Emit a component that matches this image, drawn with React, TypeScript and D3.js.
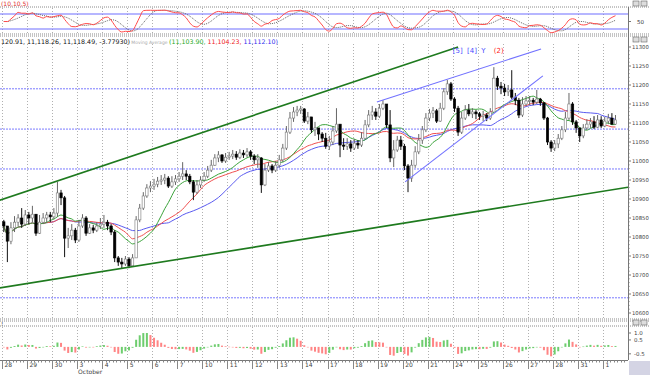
import React, { useEffect, useRef } from 'react';
import * as d3 from 'd3';

// hourly bars, 7 per trading day
const dayLabels = ["28", "29", "30", "3", "4", "5", "6", "7", "10", "11", "12", "13", "14", "17", "18", "19", "20", "21", "24", "25", "26", "27", "28", "31", "1"];

const closes = [
  10829, 10789, 10824, 10839, 10850, 10834, 10858, 10850, 10860, 10810, 10839, 10850, 10858, 10853, 10863, 10916, 10903, 10797, 10803, 10818,
  10792, 10829, 10850, 10810, 10824, 10818, 10829, 10834, 10839, 10829, 10813, 10745, 10734, 10729, 10742, 10724, 10745, 10845, 10876, 10908,
  10929, 10934, 10939, 10947, 10950, 10955, 10934, 10945, 10953, 10960, 10966, 10960, 10945, 10918, 10937, 10950, 10960, 10976, 10989, 11008,
  11016, 11000, 11010, 11013, 11018, 11010, 11021, 11016, 11024, 11013, 11003, 11008, 10937, 10976, 10987, 10976, 10989, 11003, 11034, 11076,
  11113, 11129, 11134, 11137, 11105, 11116, 11082, 11087, 11071, 11060, 11039, 11050, 11079, 11097, 11042, 11039, 11045, 11034, 11047, 11042,
  11060, 11095, 11121, 11129, 11118, 11139, 11150, 11095, 11008, 11029, 11055, 11039, 10987, 10955, 10989, 11024, 11055, 11082, 11113, 11126,
  11132, 11105, 11139, 11182, 11203, 11163, 11139, 11076, 11113, 11134, 11124, 11129, 11124, 11118, 11121, 11113, 11129, 11218, 11197, 11192,
  11182, 11187, 11168, 11160, 11121, 11150, 11158, 11160, 11155, 11163, 11153, 11113, 11050, 11034, 11045, 11060, 11082, 11113, 11150, 11103,
  11087, 11066, 11087, 11097, 11103, 11089, 11108, 11092, 11105, 11113, 11097, 11108
];

const highs = [
  10845, 10818, 10839, 10855, 10860, 10876, 10871, 10866, 10882, 10860, 10858, 10863, 10866, 10866, 10876, 10945, 10924, 10908, 10824, 10834,
  10824, 10845, 10860, 10855, 10834, 10832, 10839, 10850, 10858, 10845, 10834, 10818, 10750, 10745, 10750, 10747, 10755, 10855, 10887, 10918,
  10939, 10947, 10953, 10958, 10963, 10966, 10960, 10960, 10963, 10971, 10997, 10976, 10966, 10950, 10950, 10960, 10971, 10987, 11003, 11018,
  11026, 11018, 11021, 11024, 11029, 11026, 11031, 11029, 11034, 11029, 11018, 11018, 11010, 10992, 10997, 10992, 11000, 11016, 11045, 11092,
  11129, 11142, 11145, 11145, 11139, 11129, 11113, 11103, 11087, 11076, 11074, 11066, 11092, 11139, 11095, 11060, 11060, 11055, 11058, 11055,
  11076, 11108, 11134, 11145, 11139, 11150, 11160, 11145, 11134, 11055, 11066, 11066, 11045, 10992, 11003, 11039, 11071, 11092, 11126, 11137,
  11142, 11137, 11153, 11192, 11213, 11208, 11168, 11145, 11129, 11147, 11150, 11139, 11134, 11129, 11132, 11126, 11139, 11247, 11224, 11208,
  11203, 11200, 11239, 11179, 11166, 11168, 11171, 11171, 11166, 11187, 11166, 11155, 11116, 11055, 11055, 11071, 11092, 11129, 11179, 11155,
  11108, 11087, 11097, 11110, 11113, 11118, 11121, 11118, 11116, 11124, 11126, 11121
];

const lows = [
  10813, 10734, 10781, 10813, 10829, 10824, 10829, 10834, 10839, 10803, 10808, 10834, 10839, 10839, 10847, 10853, 10884, 10747, 10771, 10792,
  10784, 10787, 10824, 10803, 10808, 10810, 10813, 10821, 10824, 10818, 10805, 10734, 10724, 10718, 10724, 10718, 10724, 10745, 10839, 10871,
  10903, 10918, 10924, 10931, 10937, 10939, 10929, 10929, 10937, 10945, 10950, 10950, 10939, 10897, 10913, 10929, 10945, 10955, 10971, 10987,
  10997, 10995, 10995, 11003, 11005, 11003, 11005, 11008, 11010, 11003, 10992, 10982, 10916, 10934, 10971, 10968, 10971, 10982, 10997, 11029,
  11071, 11103, 11118, 11124, 11100, 11097, 11074, 11066, 11055, 11050, 11032, 11029, 11042, 11074, 11010, 11029, 11029, 11024, 11029, 11032,
  11037, 11058, 11089, 11108, 11108, 11113, 11134, 11087, 10997, 10984, 11024, 11029, 10976, 10918, 10945, 10982, 11018, 11045, 11076, 11105,
  11113, 11100, 11103, 11134, 11174, 11158, 11129, 11066, 11071, 11108, 11118, 11113, 11110, 11108, 11105, 11105, 11108, 11129, 11187, 11176,
  11171, 11171, 11163, 11147, 11113, 11116, 11145, 11147, 11147, 11150, 11145, 11108, 11042, 11024, 11026, 11034, 11055, 11076, 11108, 11095,
  11074, 11050, 11060, 11082, 11087, 11084, 11087, 11087, 11089, 11097, 11095, 11095
];

const priceTicks = [11300, 11250, 11200, 11150, 11100, 11050, 11000, 10950, 10900, 10850, 10800, 10750, 10700, 10650, 10600];
const levels = [11190, 11084, 10979, 10640];
const stochTicks = [50];
const oscTicks = [1.0, 0.5, -0.5];

// trend lines as [bar index, price]
const greenLines = [
  [[-0.6, 10897], [127.5, 11300]],
  [[-0.6, 10666], [175, 10931]],
];
const blueLines = [
  [[104.8, 11155], [150.7, 11295]],
  [[112.7, 10945], [151.2, 11224]],
];
const waveLabels = [
  { t: "[5]", i: 126, color: "#4a4aff" },
  { t: "[4]", i: 130, color: "#4a4aff" },
  { t: "Y", i: 134, color: "#4a4aff" },
  { t: "(2)", i: 137.5, color: "#ff2020" },
];

const sma = (arr: number[], n: number) =>
  arr.map((_, i) => d3.mean(arr.slice(Math.max(0, i - n + 1), i + 1)) as number);

const ema = (arr: number[], n: number) => {
  const k = 2 / (n + 1);
  const out: number[] = [];
  arr.forEach((v, i) => out.push(i === 0 ? v : v * k + out[i - 1] * (1 - k)));
  return out;
};

const App = () => {
  const svgRef = useRef<SVGSVGElement>(null);

  useEffect(() => {
    const svg = d3.select(svgRef.current);
    svg.selectAll("*").remove();

    const W = 650, axisX = 628;
    const font = "DejaVu Sans, sans-serif";

    const x = d3.scaleLinear().domain([0, 175]).range([2, axisX]);
    const y = d3.scaleLinear().domain([10600, 11300]).range([313, 47]);
    const ys = d3.scaleLinear().domain([0, 100]).range([34, 9]);
    const yo = d3.scaleLinear().domain([-0.8, 1.0]).range([358, 333]);

    svg.append("rect").attr("width", W).attr("height", 375).attr("fill", "#fff");

    svg.append("clipPath").attr("id", "mainClip")
      .append("rect").attr("x", 0).attr("y", 37).attr("width", axisX).attr("height", 282);

    // panel separators
    const sep = (yy: number) => svg.append("line")
      .attr("x1", 0).attr("x2", W).attr("y1", yy).attr("y2", yy)
      .attr("stroke", "#8a8a8a").attr("stroke-dasharray", "1,1");
    [7, 34, 36, 319, 321, 326].forEach(sep);

    // vertical day grid
    const panels = [[8, 33], [44, 318], [327, 359]];
    d3.range(dayLabels.length).forEach(d => {
      panels.forEach(([a, b]) => {
        svg.append("line")
          .attr("x1", Math.round(x(d * 7)) + 0.5).attr("x2", Math.round(x(d * 7)) + 0.5)
          .attr("y1", a).attr("y2", b)
          .attr("stroke", "#b0b0b0").attr("stroke-dasharray", "1,2");
      });
    });

    // right axis
    svg.append("line").attr("x1", axisX + 0.5).attr("x2", axisX + 0.5).attr("y1", 7).attr("y2", 360)
      .attr("stroke", "#777");

    // ---- stochastic panel
    const k = closes.map((c, i) => {
      const lo = d3.min(lows.slice(Math.max(0, i - 9), i + 1)) as number;
      const hi = d3.max(highs.slice(Math.max(0, i - 9), i + 1)) as number;
      return hi === lo ? 50 : ((c - lo) / (hi - lo)) * 100;
    });
    const kSlow = sma(k, 3);
    const dLine = sma(kSlow, 5);

    [80, 20].forEach(v => {
      svg.append("line").attr("x1", 0).attr("x2", axisX).attr("y1", ys(v)).attr("y2", ys(v))
        .attr("stroke", "#6f6fff").attr("stroke-width", 1.2);
    });
    const sLine = d3.line<number>().x((_, i) => x(i + 0.5)).y(v => ys(v)).curve(d3.curveMonotoneX);
    svg.append("path").datum(dLine).attr("d", sLine).attr("fill", "none")
      .attr("stroke", "#666").attr("stroke-dasharray", "1,1");
    svg.append("path").datum(kSlow).attr("d", sLine).attr("fill", "none")
      .attr("stroke", "#ff4a4a").attr("stroke-width", 1);
    stochTicks.forEach(t => {
      svg.append("line").attr("x1", axisX).attr("x2", axisX + 3).attr("y1", ys(t)).attr("y2", ys(t)).attr("stroke", "#777");
      svg.append("text").attr("x", 637).attr("y", ys(t) + 2.2).text(t)
        .attr("font-family", font).attr("font-size", 5.5).attr("fill", "#333");
    });
    svg.append("text").attr("x", 1).attr("y", 5.5).text("(10,10,5)")
      .attr("font-family", font).attr("font-size", 6).attr("fill", "#e03030");

    // ---- main price panel
    const main = svg.append("g").attr("clip-path", "url(#mainClip)");

    levels.forEach(v => {
      main.append("line").attr("x1", 0).attr("x2", axisX).attr("y1", y(v)).attr("y2", y(v))
        .attr("stroke", "#7a7aff").attr("stroke-dasharray", "2,1");
    });

    const maDefs = [
      { n: 12, color: "#3aa33a" },
      { n: 20, color: "#f05050" },
      { n: 30, color: "#5a5af0" },
    ];
    const pLine = d3.line<number>().x((_, i) => x(i + 0.5)).y(v => y(v)).curve(d3.curveMonotoneX);
    maDefs.slice().reverse().forEach(m => {
      main.append("path").datum(sma(closes, m.n)).attr("d", pLine).attr("fill", "none")
        .attr("stroke", m.color).attr("stroke-width", 1);
    });

    // candles
    const bw = 2.4;
    closes.forEach((c, i) => {
      const o = i === 0 ? 10840 : closes[i - 1];
      const cx = x(i + 0.5);
      const up = c >= o;
      main.append("line").attr("x1", cx).attr("x2", cx).attr("y1", y(highs[i])).attr("y2", y(lows[i]))
        .attr("stroke", up ? "#666" : "#111");
      main.append("rect")
        .attr("x", cx - bw / 2).attr("width", bw)
        .attr("y", y(Math.max(o, c))).attr("height", Math.max(1, Math.abs(y(o) - y(c))))
        .attr("fill", up ? "#fff" : "#000").attr("stroke", up ? "#777" : "#000").attr("stroke-width", 0.6);
    });

    const tLine = d3.line<number[]>().x(d => x(d[0])).y(d => y(d[1]));
    greenLines.forEach(l => {
      main.append("path").datum(l).attr("d", tLine).attr("stroke", "#1e7a1e").attr("stroke-width", 1.6).attr("fill", "none");
    });
    blueLines.forEach(l => {
      main.append("path").datum(l).attr("d", tLine).attr("stroke", "#7272ff").attr("stroke-width", 1.1).attr("fill", "none");
    });
    waveLabels.forEach(w => {
      svg.append("text").attr("x", x(w.i)).attr("y", 53).text(w.t)
        .attr("font-family", font).attr("font-size", 7).attr("fill", w.color);
    });

    // price axis
    d3.range(10600, 11301, 10).forEach(v => {
      svg.append("line").attr("x1", axisX).attr("x2", axisX + (v % 50 === 0 ? 3 : 1.5))
        .attr("y1", y(v)).attr("y2", y(v)).attr("stroke", "#777");
    });
    priceTicks.forEach(v => {
      svg.append("text").attr("x", 632).attr("y", y(v) + 2.2).text(v)
        .attr("font-family", font).attr("font-size", 5.3).attr("fill", "#444");
    });

    // header of main panel
    const header = svg.append("text").attr("x", 1).attr("y", 43.5)
      .attr("font-family", font).attr("font-size", 6.3);
    header.append("tspan").text("120.91, 11,118.26, 11,118.49, -3.77930)").attr("fill", "#111");
    header.append("tspan").text(" Moving Average ").attr("fill", "#aaa").attr("font-size", 4.5);
    header.append("tspan").text("(11,103.90,").attr("fill", "#22aa22");
    header.append("tspan").text(" 11,104.23,").attr("fill", "#ee2222");
    header.append("tspan").text(" 11,112.10)").attr("fill", "#3030ee");

    // ---- oscillator histogram panel
    const fast = ema(closes, 6), slow = ema(closes, 13);
    const macd = fast.map((v, i) => v - slow[i]);
    const sig = ema(macd, 5);
    const hist = macd.map((v, i) => v - sig[i]);
    const maxAbs = d3.max(hist, h => Math.abs(h)) as number;
    const osc = hist.map(h => h / maxAbs);
    osc.forEach((v, i) => {
      const rising = i > 0 && v > osc[i - 1];
      svg.append("rect")
        .attr("x", x(i + 0.5) - 1).attr("width", 2)
        .attr("y", Math.min(yo(v), yo(0))).attr("height", Math.max(0.5, Math.abs(yo(v) - yo(0))))
        .attr("fill", rising ? "#55c455" : "#ff7070").attr("opacity", 0.85);
    });
    oscTicks.forEach(t => {
      svg.append("line").attr("x1", axisX).attr("x2", axisX + 3).attr("y1", yo(t)).attr("y2", yo(t)).attr("stroke", "#777");
      svg.append("text").attr("x", 634).attr("y", yo(t) + 2.2).text(t.toFixed(1))
        .attr("font-family", font).attr("font-size", 5.5).attr("fill", "#444");
    });
    svg.append("text").attr("x", 1).attr("y", 325.5).text("!")
      .attr("font-family", font).attr("font-size", 6).attr("fill", "#444");

    // ---- time axis
    svg.append("line").attr("x1", 0).attr("x2", axisX).attr("y1", 360.5).attr("y2", 360.5).attr("stroke", "#777");
    d3.range(0, 175).forEach(i => {
      const day = i % 7 === 0;
      svg.append("line").attr("x1", Math.round(x(i)) + 0.5).attr("x2", Math.round(x(i)) + 0.5)
        .attr("y1", 360.5).attr("y2", day ? 369 : 362.5).attr("stroke", "#888");
    });
    dayLabels.forEach((lab, d) => {
      svg.append("text").attr("x", x(d * 7) + 2.5).attr("y", 367).text(lab)
        .attr("font-family", font).attr("font-size", 6).attr("fill", "#444");
    });
    svg.append("text").attr("x", x(21) + 1).attr("y", 374).text("October")
      .attr("font-family", font).attr("font-size", 6).attr("fill", "#444");

    // window icons and corner
    [1, 37, 320].forEach(yy => {
      [633, 641].forEach(xx => {
        svg.append("rect").attr("x", xx).attr("y", yy).attr("width", 6).attr("height", 5)
          .attr("fill", "#ddd").attr("stroke", "#666").attr("stroke-width", 0.6);
      });
    });
    svg.append("rect").attr("x", axisX + 1).attr("y", 361).attr("width", 21).attr("height", 14).attr("fill", "#d4d4e4");
  }, []);

  return (
    <svg ref={svgRef} width={650} height={375}
      style={{ position: 'absolute', left: 0, top: 0, display: 'block' }}></svg>
  );
};

export default App;
